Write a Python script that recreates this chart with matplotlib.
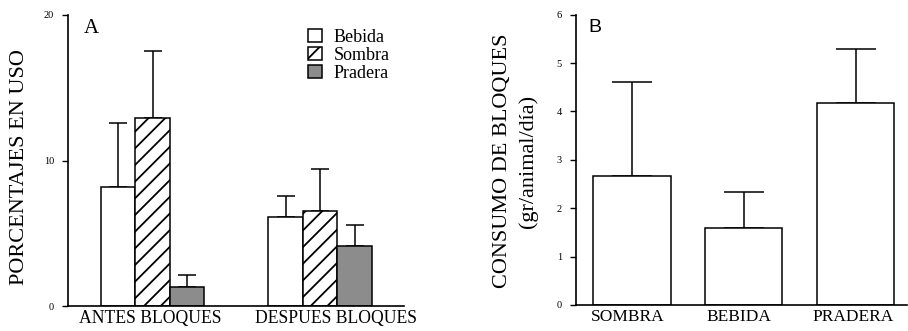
import matplotlib
matplotlib.use("Agg")
import matplotlib.pyplot as plt
from matplotlib.patches import Patch
import numpy as np

# ---------------- data ----------------
groups_a = ["ANTES BLOQUES", "DESPUES BLOQUES"]
series_a = ["Bebida", "Sombra", "Pradera"]
bebida_a = [8.2, 6.1]
bebida_err = [4.35, 1.45]
sombra_a = [12.9, 6.5]
sombra_err = [4.6, 2.9]
pradera_a = [1.3, 4.1]
pradera_err = [0.8, 1.5]

cats_b = ["SOMBRA", "BEBIDA", "PRADERA"]
vals_b = [2.67, 1.59, 4.17]
err_b = [1.94, 0.74, 1.12]

plt.rcParams["hatch.linewidth"] = 1.3
W, H = 908, 331
fig = plt.figure(figsize=(W / 100, H / 100), dpi=100)

serif = "Liberation Serif"

def px_axes(l, r, t, b):
    return fig.add_axes([l / W, 1 - b / H, (r - l) / W, (b - t) / H])

# ---------------- panel A ----------------
axA = px_axes(68, 404, 15, 306)
x = np.arange(len(groups_a))
w = 0.206
styles = [
    dict(facecolor="white", hatch=None),
    dict(facecolor="white", hatch="//"),
    dict(facecolor="#8c8c8c", hatch=None),
]
vals = [bebida_a, sombra_a, pradera_a]
errs = [bebida_err, sombra_err, pradera_err]
for i, (v, e, st) in enumerate(zip(vals, errs, styles)):
    pos = x + (i - 1) * w
    axA.bar(pos, v, width=w, edgecolor="black", linewidth=1.1,
            facecolor=st["facecolor"], hatch=st["hatch"], zorder=2)
    axA.errorbar(pos, v, yerr=[np.zeros(len(v)), e], fmt="none",
                 ecolor="black", elinewidth=1.1, capsize=6.8, capthick=1.1, zorder=1)

axA.set_xlim(-0.505, 1.50)
axA.set_ylim(0, 20)
axA.set_yticks([0, 10, 20])
axA.set_yticklabels(["0", "10", "20"], fontsize=7.5, family=serif)
axA.set_xticks(x + np.array([-0.012, 0.096]))
axA.set_xticklabels(groups_a, fontsize=12.7, family=serif)
axA.tick_params(axis="x", length=0, pad=3)
axA.tick_params(axis="y", length=4, width=1, pad=6)
for s in ["top", "right"]:
    axA.spines[s].set_visible(False)
for s in ["left", "bottom"]:
    axA.spines[s].set_linewidth(1.2)
axA.text(16 / 336, 0.985, "A", transform=axA.transAxes, fontsize=15,
         family=serif, va="top", ha="left")
fig.text(20 / W, 1 - 167 / H, "PORCENTAJES EN USO", rotation=90,
         ha="center", va="center", fontsize=16, family=serif)

handles = [
    Patch(facecolor="white", edgecolor="black", linewidth=1.1, label="Bebida"),
    Patch(facecolor="white", edgecolor="black", linewidth=1.1, hatch="/", label="Sombra"),
    Patch(facecolor="#8c8c8c", edgecolor="black", linewidth=1.1, label="Pradera"),
]
leg = fig.legend(handles=handles, loc="upper left",
                 bbox_to_anchor=(308 / W, 1 - 29 / H), bbox_transform=fig.transFigure,
                 frameon=False, prop={"family": serif, "size": 13},
                 handlelength=0.75, handleheight=0.75, handletextpad=0.65,
                 labelspacing=0.05, borderpad=0, borderaxespad=0)

# ---------------- panel B ----------------
axB = px_axes(575.7, 907, 14.7, 305)
xb = np.arange(len(cats_b))
axB.bar(xb, vals_b, width=0.69, facecolor="white", edgecolor="black",
        linewidth=1.1, zorder=2)
axB.errorbar(xb, vals_b, yerr=[np.zeros(len(vals_b)), err_b], fmt="none",
             ecolor="black", elinewidth=1.1, capsize=14.5, capthick=1.1, zorder=1)
axB.set_xlim(-0.504, 2.46)
axB.set_ylim(0, 6)
axB.set_yticks(range(7))
axB.set_yticklabels([str(i) for i in range(7)], fontsize=7.5, family=serif)
axB.set_xticks(xb + np.array([-0.04, -0.045, -0.025]))
axB.set_xticklabels(cats_b, fontsize=12.5, family=serif)
axB.tick_params(axis="x", length=0, pad=3)
axB.tick_params(axis="y", length=4, width=1, pad=6)
for s in ["top", "right"]:
    axB.spines[s].set_visible(False)
for s in ["left", "bottom"]:
    axB.spines[s].set_linewidth(1.2)
axB.text(13 / 331, 0.985, "B", transform=axB.transAxes, fontsize=14,
         family="Liberation Sans", va="top", ha="left")
fig.text(503 / W, 1 - 161 / H, "CONSUMO DE BLOQUES", rotation=90,
         ha="center", va="center", fontsize=16, family=serif)
fig.text(528 / W, 1 - 161 / H, "(gr/animal/día)", rotation=90,
         ha="center", va="center", fontsize=16, family=serif)

fig.savefig("out.png", dpi=100)
